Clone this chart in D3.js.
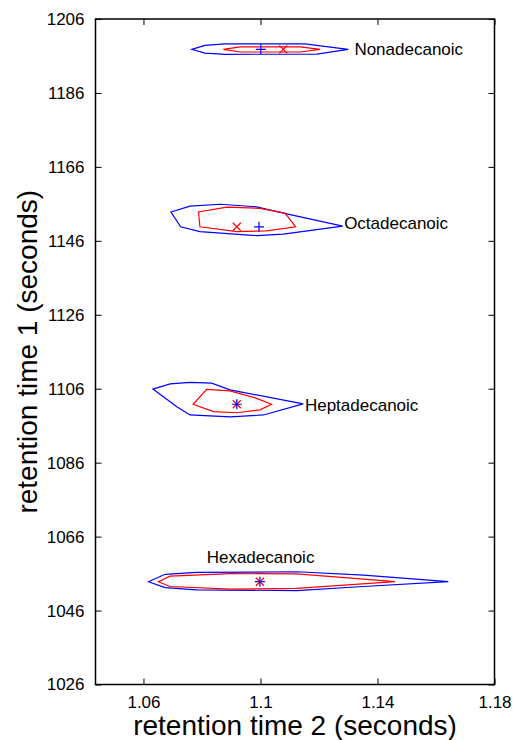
<!DOCTYPE html>
<html>
<head>
<meta charset="utf-8">
<script src="https://cdn.jsdelivr.net/npm/d3@7"></script>
<style>
  body { margin: 0; background: #fff; }
  svg text { font-family: "Liberation Sans", Arial, Helvetica, sans-serif; fill: #000; }
</style>
</head>
<body>
<div id="chart"></div>
<script>
// axis ticks
var xTicks = [1.06, 1.1, 1.14, 1.18];
var yTicks = [1026, 1046, 1066, 1086, 1106, 1126, 1146, 1166, 1186, 1206];

// compound labels (data coords, left anchored)
var compounds = ["Hexadecanoic", "Heptadecanoic", "Octadecanoic", "Nonadecanoic"];
var labelX = [1.0816, 1.1152, 1.1286, 1.1321];
var labelY = [1060.4, 1101.6, 1150.9, 1197.9];

// blue + (true peak) and red x (estimate)
var trueX = [1.0998, 1.0919, 1.0995, 1.1001];
var trueY = [1053.8, 1101.8, 1149.8, 1197.8];
var estX = [1.0998, 1.0919, 1.0919, 1.1078];
var estY = [1053.8, 1101.8, 1149.8, 1197.8];

// contours [x, y]
var hexaOuter = [[1.0617,1053.8],[1.0674,1055.8],[1.0782,1056.3],[1.1124,1056.5],[1.1352,1055.6],[1.1642,1053.8],
                 [1.1352,1052.5],[1.1124,1051.4],[1.0782,1051.6],[1.0674,1052.2]];
var hexaInner = [[1.0651,1053.8],[1.0691,1055.3],[1.0896,1056.0],[1.1124,1055.9],[1.1460,1053.8],
                 [1.1124,1052.0],[1.0896,1051.8],[1.0691,1052.5]];
var heptaOuter = [[1.0632,1105.9],[1.0691,1107.3],[1.0759,1107.7],[1.0833,1107.5],[1.0896,1105.7],[1.1146,1101.9],
                  [1.1010,1098.9],[1.0896,1098.4],[1.0759,1098.9],[1.0714,1101.1],[1.0668,1103.8]];
var heptaInner = [[1.0770,1101.8],[1.0816,1105.8],[1.0896,1105.4],[1.0987,1103.4],[1.1038,1101.8],
                  [1.0998,1100.3],[1.0919,1099.5],[1.0839,1099.8]];
var octaOuter = [[1.0694,1153.8],[1.0759,1155.4],[1.0862,1155.9],[1.0987,1155.2],[1.1078,1153.5],[1.1281,1150.0],
                 [1.1078,1147.8],[1.0987,1147.4],[1.0793,1148.5],[1.0727,1149.8]];
var octaInner = [[1.0788,1153.8],[1.0793,1149.8],[1.0919,1148.5],[1.1021,1148.7],[1.1120,1149.8],
                 [1.1084,1153.5],[1.0998,1154.8],[1.0885,1155.1]];
var nonaOuter = [[1.0765,1197.8],[1.0810,1198.85],[1.0879,1199.25],[1.1152,1199.25],[1.1300,1197.8],
                 [1.1193,1196.5],[1.0879,1196.45],[1.0810,1196.76]];
var nonaInner = [[1.0873,1197.8],[1.0930,1198.44],[1.1135,1198.44],[1.1204,1197.8],
                 [1.1135,1197.08],[1.0930,1197.08]];

var outerContours = [hexaOuter, heptaOuter, octaOuter, nonaOuter];
var innerContours = [hexaInner, heptaInner, octaInner, nonaInner];

var margin = {top: 19, right: 19.5, bottom: 55.5, left: 95.5},
    W = 514, H = 740,
    width = W - margin.left - margin.right,
    height = H - margin.top - margin.bottom;

var svg = d3.select("#chart").append("svg")
    .attr("width", W)
    .attr("height", H);

var g = svg.append("g")
    .attr("transform", "translate(" + margin.left + "," + margin.top + ")");

var x = d3.scaleLinear().domain([1.0436, 1.18]).range([0, width]);
var y = d3.scaleLinear().domain([1026, 1206]).range([height, 0]);

var line = d3.line()
    .x(function(d) { return x(d[0]); })
    .y(function(d) { return y(d[1]); })
    .curve(d3.curveLinearClosed);

// contours
g.selectAll(".outer").data(outerContours).enter().append("path")
    .attr("class", "outer")
    .attr("d", line)
    .attr("fill", "none")
    .attr("stroke", "#0000ff")
    .attr("stroke-width", 1.2);

g.selectAll(".inner").data(innerContours).enter().append("path")
    .attr("class", "inner")
    .attr("d", line)
    .attr("fill", "none")
    .attr("stroke", "#ff0000")
    .attr("stroke-width", 1.2);

// markers
var ms = 5;
g.selectAll(".est").data(estX).enter().append("path")
    .attr("class", "est")
    .attr("d", function(d, i) {
        var cx = x(d), cy = y(estY[i]), s = ms * 0.8;
        return "M" + (cx - s) + "," + (cy - s) + "L" + (cx + s) + "," + (cy + s) +
               "M" + (cx - s) + "," + (cy + s) + "L" + (cx + s) + "," + (cy - s);
    })
    .attr("stroke", "#ff0000")
    .attr("stroke-width", 1.2)
    .attr("fill", "none");

g.selectAll(".true").data(trueX).enter().append("path")
    .attr("class", "true")
    .attr("d", function(d, i) {
        var cx = x(d), cy = y(trueY[i]);
        return "M" + (cx - ms) + "," + cy + "L" + (cx + ms) + "," + cy +
               "M" + cx + "," + (cy - ms) + "L" + cx + "," + (cy + ms);
    })
    .attr("stroke", "#0000ff")
    .attr("stroke-width", 1.2)
    .attr("fill", "none");

// labels
g.selectAll(".lab").data(compounds).enter().append("text")
    .attr("class", "lab")
    .attr("x", function(d, i) { return x(labelX[i]); })
    .attr("y", function(d, i) { return y(labelY[i]); })
    .attr("dy", "0.36em")
    .style("font-size", "17px")
    .text(function(d) { return d; });

// axes (ticks inside, mirrored)
var tk = 6;
var xAxis = g.append("g").attr("transform", "translate(0," + height + ")")
    .call(d3.axisBottom(x).tickValues(xTicks).tickSize(-tk).tickPadding(tk + 5)
        .tickFormat(function(d) { return String(d); }));
var xTop = g.append("g")
    .call(d3.axisTop(x).tickValues(xTicks).tickSize(-tk).tickFormat(""));
var yAxis = g.append("g")
    .call(d3.axisLeft(y).tickValues(yTicks).tickSize(-tk).tickPadding(tk + 5)
        .tickFormat(d3.format("d")));
var yRight = g.append("g").attr("transform", "translate(" + width + ",0)")
    .call(d3.axisRight(y).tickValues(yTicks).tickSize(-tk).tickFormat(""));

[xAxis, xTop, yAxis, yRight].forEach(function(a) {
    a.select(".domain").remove();
    a.selectAll(".tick line").attr("stroke", "#000").attr("stroke-width", 1);
    a.selectAll(".tick text").style("font-size", "17px")
        .style("font-family", "'Liberation Sans', Arial, sans-serif").attr("fill", "#000");
});

g.append("rect")
    .attr("width", width)
    .attr("height", height)
    .attr("fill", "none")
    .attr("stroke", "#000")
    .attr("stroke-width", 1.5);

// axis titles
svg.append("text")
    .attr("x", margin.left + width / 2)
    .attr("y", 735)
    .attr("text-anchor", "middle")
    .style("font-size", "28px")
    .text("retention time 2 (seconds)");

svg.append("text")
    .attr("transform", "translate(37," + (margin.top + height / 2) + ") rotate(-90)")
    .attr("text-anchor", "middle")
    .style("font-size", "28px")
    .text("retention time 1 (seconds)");
</script>
</body>
</html>
